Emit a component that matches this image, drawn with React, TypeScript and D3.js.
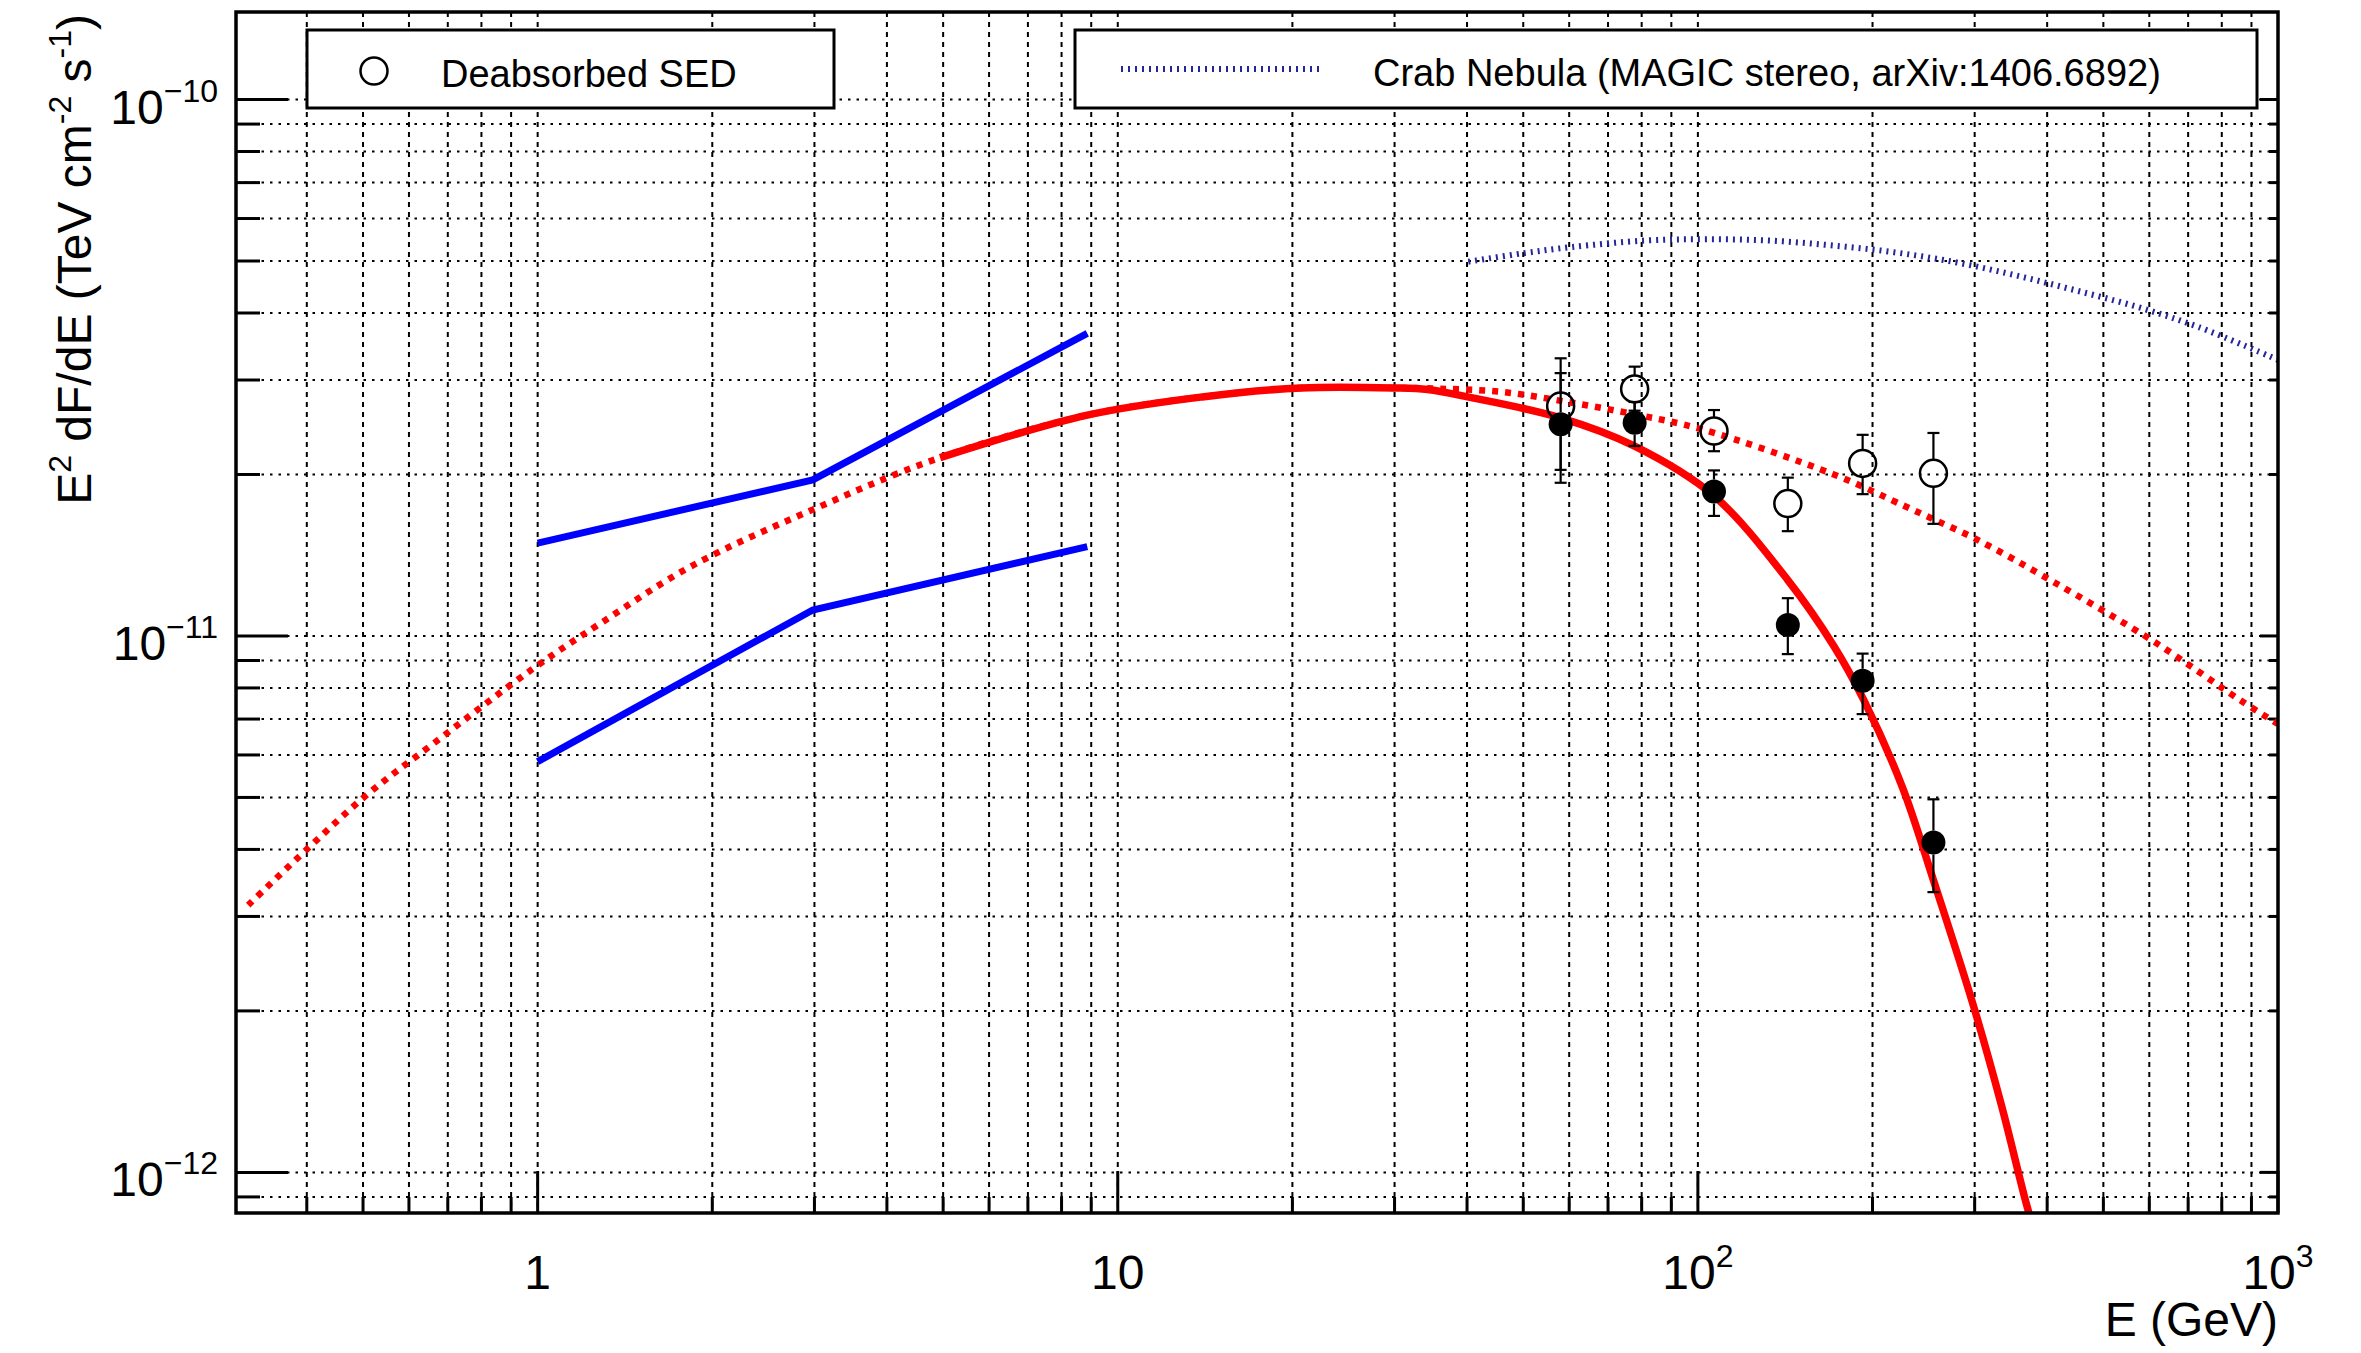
import React from "react";
import * as d3 from "d3";

// ---------- data ----------
const xDomain = [0.302, 1000];
const yDomain = [8.4e-13, 1.456e-10];

const xTickLabels = [
  { v: 1, base: "1", sup: "" },
  { v: 10, base: "10", sup: "" },
  { v: 100, base: "10", sup: "2" },
  { v: 1000, base: "10", sup: "3" },
];
const yTickLabels = [
  { v: 1e-10, base: "10", sup: "\u221210" },
  { v: 1e-11, base: "10", sup: "\u221211" },
  { v: 1e-12, base: "10", sup: "\u221212" },
];

// Fermi butterfly (blue)
const blueUpperE = [1, 2.98, 8.86];
const blueUpperV = [1.49e-11, 1.954e-11, 3.666e-11];
const blueLowerE = [1, 2.98, 8.86];
const blueLowerV = [5.83e-12, 1.118e-11, 1.467e-11];

// intrinsic model (red dotted)
const redDotE = [0.317, 0.4, 0.507, 0.661, 0.983, 1.282, 1.842, 2.98, 4.94, 8.86, 13.98, 20.7, 29.9, 36, 45.8, 59.6, 77.7, 101.3, 171.5, 227, 254.7, 301.8, 409.3, 613, 859, 1000];
const redDotV = [3.15e-12, 4.0e-12, 5.05e-12, 6.3e-12, 8.7e-12, 1.055e-11, 1.35e-11, 1.72e-11, 2.15e-11, 2.58e-11, 2.79e-11, 2.9e-11, 2.9e-11, 2.89e-11, 2.852e-11, 2.73e-11, 2.59e-11, 2.43e-11, 2.0e-11, 1.747e-11, 1.65e-11, 1.515e-11, 1.263e-11, 9.74e-12, 7.6e-12, 6.85e-12];

// absorbed model (red solid)
const redSolidE = [4.94, 8.86, 13.98, 20.7, 29.9, 34.2, 40.1, 58.0, 77.8, 106.6, 142.9, 171.5, 193.6, 225.4, 254.8, 297.9, 333.9, 368.7, 385];
const redSolidV = [2.15e-11, 2.58e-11, 2.79e-11, 2.9e-11, 2.9e-11, 2.88e-11, 2.79e-11, 2.55e-11, 2.258e-11, 1.824e-11, 1.271e-11, 9.58e-12, 7.56e-12, 5.21e-12, 3.5e-12, 2.06e-12, 1.33e-12, 8.7e-13, 7.4e-13];

// Crab Nebula (MAGIC stereo)
const crabE = [40.2, 50.0, 60.8, 81.4, 103.8, 132.4, 168.9, 215.5, 274.9, 350.6, 447.2, 570.4, 727.8, 1000];
const crabV = [4.985e-11, 5.17e-11, 5.31e-11, 5.46e-11, 5.49e-11, 5.46e-11, 5.35e-11, 5.2e-11, 4.985e-11, 4.71e-11, 4.41e-11, 4.11e-11, 3.77e-11, 3.27e-11];

// SED points
const pointE = [58.0, 77.8, 106.6, 142.9, 192.3, 254.7];
const openV = [2.682e-11, 2.888e-11, 2.41e-11, 1.765e-11, 2.097e-11, 2.01e-11];
const openHi = [3.293e-11, 3.177e-11, 2.637e-11, 1.973e-11, 2.371e-11, 2.39e-11];
const openLo = [2.04e-11, 2.63e-11, 2.21e-11, 1.568e-11, 1.838e-11, 1.618e-11];
const filledV = [2.48e-11, 2.498e-11, 1.859e-11, 1.048e-11, 8.25e-12, 4.12e-12];
const filledHi = [3.09e-11, 2.73e-11, 2.035e-11, 1.176e-11, 9.27e-12, 4.96e-12];
const filledLo = [1.93e-11, 2.26e-11, 1.674e-11, 9.25e-12, 7.15e-12, 3.33e-12];

const legendLabels = ["Deabsorbed SED", "Crab Nebula (MAGIC stereo, arXiv:1406.6892)"];

// ---------- layout ----------
const W = 2361;
const H = 1353;
const F = { l: 236, r: 2278, t: 12, b: 1213 };
const FONT = "'Liberation Sans', Arial, Helvetica, sans-serif";

export default function App() {
  const xs = d3.scaleLog().domain(xDomain).range([F.l, F.r]);
  const ys = d3.scaleLog().domain(yDomain).range([F.b, F.t]);

  const line = d3
    .line<[number, number]>()
    .x((d) => xs(d[0]))
    .y((d) => ys(d[1]))
    .curve(d3.curveCatmullRom.alpha(0.5));
  const straight = d3
    .line<[number, number]>()
    .x((d) => xs(d[0]))
    .y((d) => ys(d[1]));

  const zip = (a: number[], b: number[]) => a.map((v, i) => [v, b[i]] as [number, number]);

  const xt = xs.ticks();
  const yt = ys.ticks();
  const isMajor = (v: number) => Math.abs(Math.log10(v) - Math.round(Math.log10(v))) < 1e-6;

  const errBars = (vals: number[], hi: number[], lo: number[], r: number, key: string) =>
    pointE.map((e, i) => {
      const x = xs(e);
      const y = ys(vals[i]);
      const yh = ys(hi[i]);
      const yl = ys(lo[i]);
      return (
        <g key={key + i} stroke="#000" strokeWidth={2.2}>
          {yh < y - r && <line x1={x} x2={x} y1={yh} y2={y - r} />}
          {yl > y + r && <line x1={x} x2={x} y1={y + r} y2={yl} />}
          <line x1={x - 6} x2={x + 6} y1={yh} y2={yh} />
          <line x1={x - 6} x2={x + 6} y1={yl} y2={yl} />
        </g>
      );
    });

  return (
    <div style={{ position: "absolute", left: 0, top: 0 }}>
      <svg width={W} height={H} style={{ display: "block", background: "#fff" }} fontFamily={FONT}>
        <defs>
          <clipPath id="frameClip">
            <rect x={F.l} y={F.t} width={F.r - F.l} height={F.b - F.t} />
          </clipPath>
        </defs>
        <rect x={0} y={0} width={W} height={H} fill="#fff" />

        {/* grid */}
        <g stroke="#000" strokeWidth={2}>
          {xt.map((v, i) => (
            <line key={"gx" + i} x1={xs(v)} x2={xs(v)} y1={F.t} y2={F.b} strokeDasharray="5 5" />
          ))}
          {yt.map((v, i) => (
            <line key={"gy" + i} x1={F.l} x2={F.r} y1={ys(v)} y2={ys(v)} strokeDasharray="2.5 6" />
          ))}
        </g>

        {/* ticks */}
        <g stroke="#000" strokeWidth={3}>
          {xt.map((v, i) => (
            <line key={"tx" + i} x1={xs(v)} x2={xs(v)} y1={F.b} y2={F.b - (isMajor(v) ? 42 : 16)} />
          ))}
          {yt.map((v, i) => (
            <line key={"ty" + i} x1={F.l} x2={F.l + (isMajor(v) ? 52 : 24)} y1={ys(v)} y2={ys(v)} />
          ))}
          {yt.map((v, i) => (
            <line key={"tyr" + i} x1={F.r} x2={F.r - (isMajor(v) ? 18 : 9)} y1={ys(v)} y2={ys(v)} />
          ))}
        </g>

        {/* curves */}
        <g clipPath="url(#frameClip)" fill="none">
          <path d={line(zip(crabE, crabV)) || ""} stroke="#26269c" strokeWidth={6} strokeDasharray="2 5" />
          <path d={line(zip(redDotE, redDotV)) || ""} stroke="#f00" strokeWidth={6.5} strokeDasharray="6 7" />
          <path d={line(zip(redSolidE, redSolidV)) || ""} stroke="#f00" strokeWidth={7.5} />
          <path d={straight(zip(blueUpperE, blueUpperV)) || ""} stroke="#0000ff" strokeWidth={7} />
          <path d={straight(zip(blueLowerE, blueLowerV)) || ""} stroke="#0000ff" strokeWidth={7} />
        </g>

        {/* data points */}
        {errBars(openV, openHi, openLo, 13.5, "eo")}
        {errBars(filledV, filledHi, filledLo, 12, "ef")}
        {pointE.map((e, i) => (
          <circle key={"fc" + i} cx={xs(e)} cy={ys(filledV[i])} r={12} fill="#000" />
        ))}
        {pointE.map((e, i) => (
          <circle key={"oc" + i} cx={xs(e)} cy={ys(openV[i])} r={13.5} fill="none" stroke="#000" strokeWidth={2.5} />
        ))}

        {/* frame */}
        <rect x={F.l} y={F.t} width={F.r - F.l} height={F.b - F.t} fill="none" stroke="#000" strokeWidth={3.5} />

        {/* x labels */}
        {xTickLabels.map((t, i) => (
          <text key={"xl" + i} x={xs(t.v)} y={1289} fontSize={48} textAnchor="middle" fill="#000">
            {t.base}
            {t.sup && (
              <tspan dy={-22} fontSize={32}>
                {t.sup}
              </tspan>
            )}
          </text>
        ))}
        {/* y labels */}
        {yTickLabels.map((t, i) => (
          <text key={"yl" + i} x={218} y={ys(t.v) + 24} fontSize={48} textAnchor="end" fill="#000">
            {t.base}
            <tspan dy={-22} fontSize={32}>
              {t.sup}
            </tspan>
          </text>
        ))}

        {/* axis titles */}
        <text x={F.r} y={1336} fontSize={48} textAnchor="end" fill="#000">
          E (GeV)
        </text>
        <text transform="translate(91,14) rotate(-90)" fontSize={48} textAnchor="end" fill="#000">
          E
          <tspan dy={-20} fontSize={32}>2</tspan>
          <tspan dy={20}>{" dF/dE (TeV cm"}</tspan>
          <tspan dy={-20} fontSize={32}>-2</tspan>
          <tspan dy={20}>{" s"}</tspan>
          <tspan dy={-20} fontSize={32}>-1</tspan>
          <tspan dy={20}>)</tspan>
        </text>

        {/* legends */}
        <g>
          <rect x={307} y={30} width={527} height={78} fill="#fff" stroke="#000" strokeWidth={3} />
          <circle cx={374} cy={71} r={13.5} fill="none" stroke="#000" strokeWidth={2.5} />
          <text x={441} y={87} fontSize={38} fill="#000">
            {legendLabels[0]}
          </text>
        </g>
        <g>
          <rect x={1075} y={30} width={1182} height={78} fill="#fff" stroke="#000" strokeWidth={3} />
          <line x1={1121} x2={1323} y1={69} y2={69} stroke="#26269c" strokeWidth={6} strokeDasharray="2 5" />
          <text x={1373} y={86} fontSize={38} fill="#000">
            {legendLabels[1]}
          </text>
        </g>
      </svg>
    </div>
  );
}
